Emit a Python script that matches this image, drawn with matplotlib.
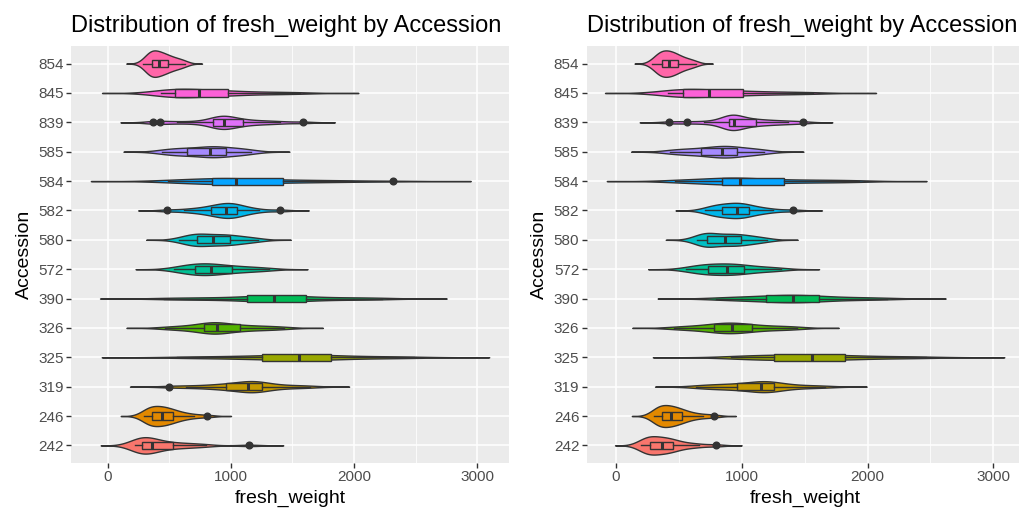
import matplotlib.pyplot as plt
import numpy as np

plt.rcParams['font.family'] = ['Liberation Sans', 'DejaVu Sans']

# accessions, bottom to top (factor order)
accessions = ['242', '246', '319', '325', '326', '390', '572',
              '580', '582', '584', '585', '839', '845', '854']

# ggplot hue palette for 14 levels
fill_colors = ['#F8766D', '#E38900', '#C49A00', '#99A800', '#53B400', '#00BC56', '#00C094',
               '#00BFC4', '#00B6EB', '#06A4FF', '#A58AFF', '#DF70F8', '#FB61D7', '#FF66A8']

# fresh_weight values per accession (left panel)
weights_left = {
    '242': [220, 235, 248, 258, 268, 277, 290, 305, 320, 338, 358, 380, 405, 435, 475, 528, 580, 640, 710, 800, 1150],
    '246': [300, 318, 330, 340, 350, 358, 380, 400, 415, 430, 445, 460, 475, 492, 512, 534, 560, 590, 640, 700, 809],
    '319': [499, 640, 760, 850, 915, 961, 1010, 1060, 1095, 1120, 1142, 1165, 1185, 1205, 1225, 1250, 1290, 1350, 1430, 1530, 1643],
    '325': [566, 760, 920, 1050, 1160, 1250, 1320, 1390, 1450, 1505, 1553, 1600, 1650, 1700, 1755, 1809, 1900, 2020, 2160, 2320, 2483],
    '326': [470, 560, 640, 700, 750, 785, 815, 840, 860, 875, 890, 910, 940, 980, 1025, 1074, 1130, 1190, 1260, 1340, 1430],
    '390': [460, 620, 780, 900, 1020, 1134, 1190, 1240, 1280, 1315, 1350, 1400, 1450, 1500, 1555, 1609, 1700, 1820, 1960, 2100, 2230],
    '572': [540, 590, 630, 665, 690, 709, 740, 770, 795, 815, 837, 860, 890, 925, 965, 1006, 1050, 1100, 1160, 1230, 1310],
    '580': [580, 630, 665, 690, 708, 723, 742, 765, 795, 828, 858, 890, 920, 945, 970, 993, 1025, 1065, 1110, 1160, 1220],
    '582': [480, 620, 700, 760, 805, 842, 870, 895, 920, 940, 961, 978, 995, 1012, 1030, 1053, 1080, 1110, 1160, 1230, 1401],
    '584': [493, 560, 640, 720, 790, 847, 890, 935, 970, 1005, 1042, 1090, 1150, 1230, 1320, 1420, 1530, 1650, 1800, 1980, 2318],
    '585': [440, 480, 530, 580, 615, 642, 690, 740, 780, 810, 830, 850, 870, 890, 920, 961, 1000, 1040, 1080, 1120, 1165],
    '839': [366, 426, 560, 700, 800, 858, 885, 905, 920, 933, 945, 962, 985, 1015, 1055, 1096, 1150, 1220, 1300, 1400, 1583],
    '845': [430, 460, 490, 510, 530, 547, 585, 625, 665, 705, 745, 790, 835, 880, 930, 980, 1060, 1160, 1280, 1410, 1560],
    '854': [290, 318, 335, 345, 352, 358, 370, 382, 395, 408, 420, 432, 446, 460, 476, 493, 512, 536, 562, 592, 629],
}

# right panel
weights_right = {
    '242': [196, 215, 232, 245, 258, 270, 285, 302, 320, 342, 363, 382, 400, 418, 436, 456, 490, 530, 590, 660, 795],
    '246': [300, 315, 328, 340, 352, 363, 378, 393, 408, 422, 437, 452, 468, 485, 503, 522, 548, 580, 625, 690, 779],
    '319': [638, 720, 790, 850, 910, 959, 1010, 1060, 1100, 1128, 1150, 1172, 1192, 1212, 1234, 1258, 1300, 1360, 1440, 1540, 1665],
    '325': [912, 1010, 1090, 1150, 1205, 1256, 1320, 1390, 1450, 1505, 1556, 1605, 1655, 1710, 1765, 1821, 1910, 2030, 2170, 2320, 2468],
    '326': [460, 550, 630, 695, 745, 782, 815, 845, 875, 900, 920, 945, 975, 1010, 1045, 1084, 1140, 1205, 1280, 1360, 1440],
    '390': [796, 900, 990, 1070, 1135, 1193, 1245, 1290, 1330, 1370, 1405, 1445, 1485, 1525, 1570, 1617, 1690, 1780, 1890, 2010, 2156],
    '572': [560, 610, 650, 685, 712, 734, 765, 795, 830, 858, 880, 905, 930, 960, 990, 1020, 1060, 1110, 1170, 1240, 1310],
    '580': [640, 668, 690, 700, 712, 721, 745, 770, 800, 835, 867, 893, 918, 943, 967, 991, 1020, 1055, 1095, 1140, 1200],
    '582': [706, 745, 775, 800, 825, 845, 872, 897, 920, 940, 959, 976, 993, 1010, 1032, 1057, 1090, 1130, 1180, 1250, 1405],
    '584': [467, 540, 620, 700, 780, 845, 880, 910, 935, 960, 986, 1030, 1090, 1160, 1245, 1338, 1440, 1550, 1670, 1800, 1929],
    '585': [430, 475, 530, 585, 640, 676, 720, 760, 795, 820, 840, 860, 880, 905, 930, 959, 1000, 1045, 1090, 1135, 1180],
    '839': [424, 562, 700, 800, 860, 898, 906, 914, 922, 930, 938, 960, 990, 1030, 1070, 1113, 1160, 1220, 1290, 1370, 1484],
    '845': [410, 445, 475, 498, 515, 530, 570, 615, 655, 697, 739, 788, 840, 895, 950, 1007, 1090, 1190, 1300, 1430, 1570],
    '854': [285, 315, 333, 344, 354, 363, 376, 388, 400, 412, 424, 436, 448, 462, 476, 490, 510, 534, 560, 592, 632],
}


def nrd0(x):
    q75, q25 = np.percentile(x, [75, 25])
    lo = min(np.std(x, ddof=1), (q75 - q25) / 1.34)
    return 0.9 * lo * len(x) ** -0.2


def density(x):
    # gaussian kde, untrimmed like geom_violin(trim = FALSE)
    x = np.asarray(x, dtype=float)
    bw = nrd0(x)
    grid = np.linspace(x.min() - 3 * bw, x.max() + 3 * bw, 512)
    k = np.exp(-0.5 * ((grid[:, None] - x[None, :]) / bw) ** 2)
    return grid, k.sum(axis=1) / (len(x) * bw * np.sqrt(2 * np.pi))


def draw_panel(ax, weights, xlim):
    ax.set_facecolor('#EBEBEB')
    for s in ax.spines.values():
        s.set_visible(False)

    dens = [density(weights[a]) for a in accessions]
    peak = max(d.max() for _, d in dens)   # scale = "area"
    for i, ((grid, d), col) in enumerate(zip(dens, fill_colors)):
        half = 0.45 * d / peak
        ax.fill_between(grid, i + 1 - half, i + 1 + half, facecolor=col,
                        edgecolor='#333333', linewidth=1.0, zorder=2)

    bp = ax.boxplot([weights[a] for a in accessions], positions=range(1, 15),
                    orientation='horizontal', widths=0.24, patch_artist=True,
                    showcaps=False, manage_ticks=False, zorder=3,
                    boxprops=dict(edgecolor='#333333', linewidth=1.0),
                    whiskerprops=dict(color='#333333', linewidth=1.0),
                    medianprops=dict(color='#333333', linewidth=2.2),
                    flierprops=dict(marker='o', markerfacecolor='#333333',
                                    markeredgecolor='#333333', markersize=4.8))
    for patch, col in zip(bp['boxes'], fill_colors):
        patch.set_facecolor(col)

    ax.set_xlim(*xlim)
    ax.set_ylim(0.4, 14.6)
    ax.set_yticks(range(1, 15))
    ax.set_yticklabels(accessions)
    ax.set_xticks([0, 1000, 2000, 3000])
    ax.set_xticks([500, 1500, 2500], minor=True)
    ax.grid(which='major', color='white', linewidth=1.1, zorder=0)
    ax.grid(which='minor', axis='x', color='white', linewidth=0.55, zorder=0)
    ax.set_axisbelow(True)
    ax.tick_params(which='major', length=3.3, width=1.0, color='#333333',
                   labelcolor='#4D4D4D', labelsize=11, pad=2)
    ax.tick_params(which='minor', length=0)

    ax.set_title('Distribution of fresh_weight by Accession', loc='left', fontsize=17, pad=10)
    ax.set_xlabel('fresh_weight', fontsize=14)
    ax.set_ylabel('Accession', fontsize=14)


fig = plt.figure(figsize=(10.19, 5.12), dpi=100)
ax1 = fig.add_axes([71 / 1019, 49 / 512, 438 / 1019, 417 / 512])
ax2 = fig.add_axes([586.7 / 1019, 49 / 512, 437.6 / 1019, 417 / 512])

draw_panel(ax1, weights_left, (-296, 3256))
draw_panel(ax2, weights_right, (-233, 3246))

fig.savefig('out.png', dpi=100)
